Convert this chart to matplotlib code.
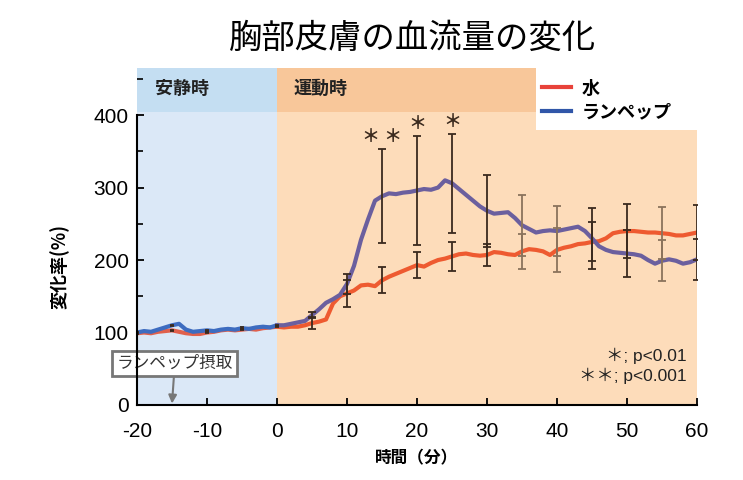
import numpy as np
import matplotlib
matplotlib.use('Agg')
import matplotlib.pyplot as plt
from matplotlib.patches import Rectangle
from matplotlib.lines import Line2D
from matplotlib.ticker import MultipleLocator

plt.rcParams['font.family'] = ['Noto Sans CJK JP', 'DejaVu Sans']
plt.rcParams['axes.unicode_minus'] = False

# データ（1分ごと、-20〜60分）
minutes = list(range(-20, 61))
lampep = [100, 102, 101, 104, 107, 110, 112, 104, 101, 102, 103, 102, 104, 105, 104, 106, 105, 107, 108, 107, 110,
          110, 112, 114, 116, 124, 132, 141, 146, 152, 167, 192, 228, 256, 282, 288, 292, 291, 293, 294,
          296, 298, 297, 300, 310, 306, 298, 290, 282, 274, 268, 264, 265, 266, 258, 248, 243, 238, 240, 241,
          240, 242, 244, 246, 240, 230, 219, 214, 211, 210, 209, 208, 206, 200, 195, 199, 201, 199, 195, 197, 201]
water = [99, 100, 99, 101, 102, 103, 101, 99, 98, 98, 100, 101, 103, 104, 103, 104, 105, 104, 106, 107, 108,
         107, 108, 108, 110, 113, 115, 118, 140, 150, 154, 158, 165, 166, 164, 172, 177, 181, 185, 189,
         193, 191, 196, 200, 202, 205, 208, 209, 207, 206, 207, 211, 210, 208, 207, 212, 215, 214, 212, 207,
         214, 217, 219, 222, 223, 225, 226, 230, 237, 239, 240, 240, 239, 238, 238, 237, 236, 234, 234, 236, 238]

# 誤差（5分ごと）
err_times = [-20, -15, -10, -5, 0, 5, 10, 15, 20, 25, 30, 35, 40, 45, 50, 55, 60]
lampep_err = [1, 1, 1, 1, 1, 4, 14, 65, 75, 68, 50, 42, 35, 42, 33, 28, 28]
water_err = [1, 1, 1, 1, 1, 8, 19, 18, 18, 20, 15, 24, 30, 27, 37, 36, 38]

# 有意差
sig_times = [15, 20, 25]
sig_marks = ['＊ ＊', '＊', '＊']

x = np.array(minutes)
lp = np.array(lampep)
wt = np.array(water)

fig = plt.figure(figsize=(7.43, 4.8), dpi=100)
ax = fig.add_axes([0.1844, 0.1563, 0.7537, 0.702])
ax.set_xlim(-20, 60)
ax.set_ylim(0, 465)

# 背景
ax.add_patch(Rectangle((-20, 0), 20, 404, fc='#dbe8f7', ec='none', zorder=0))
ax.add_patch(Rectangle((0, 0), 60, 404, fc='#fddcba', ec='none', zorder=0))
ax.add_patch(Rectangle((-20, 404), 20, 61, fc='#c4def2', ec='none', zorder=0))
ax.add_patch(Rectangle((0, 404), 37, 61, fc='#f8c79a', ec='none', zorder=0))
ax.text(-17.5, 437, '安静時', fontsize=13, fontweight='bold', va='center', color='#222')
ax.text(2.3, 437, '運動時', fontsize=13, fontweight='bold', va='center', color='#222')

# 折れ線（安静時・運動時で色を変える）
rest = x <= 0
exer = x >= 0
ax.plot(x[rest], wt[rest], color='#e0604c', lw=3, zorder=3)
ax.plot(x[exer], wt[exer], color='#ee5a30', lw=3, zorder=3)
ax.plot(x[rest], lp[rest], color='#3d6cc0', lw=3, zorder=4)
ax.plot(x[exer], lp[exer], color='#6b5f9e', lw=3, zorder=4)

# エラーバー
light = {35, 40, 55}
for t, e1, e2 in zip(err_times, lampep_err, water_err):
    i = minutes.index(t)
    c = '#8a735c' if t in light else '#3b2a1e'
    cap = 3 if t > 0 else 1.5
    ax.errorbar([t], [lampep[i]], yerr=[e1], fmt='none', ecolor=c, elinewidth=1.3, capsize=cap, capthick=1.3, zorder=5)
    ax.errorbar([t], [water[i]], yerr=[e2], fmt='none', ecolor=c, elinewidth=1.3, capsize=cap, capthick=1.3, zorder=5)

# 有意差マーク
for t, m in zip(sig_times, sig_marks):
    i = minutes.index(t)
    top = lampep[i] + lampep_err[err_times.index(t)]
    ax.text(t, top + 4, m, ha='center', va='bottom', fontsize=13, fontweight='bold', color='#3b2a1e', zorder=6)

pfam = ['Liberation Sans', 'Noto Sans CJK JP']
ax.text(58.5, 68, '＊; p<0.01', ha='right', va='center', fontsize=12.5, color='#222', family=pfam)
ax.text(58.5, 40, '＊＊; p<0.001', ha='right', va='center', fontsize=12.5, color='#222', family=pfam)

# 凡例エリア
ax.add_patch(Rectangle((37, 380), 24, 90, fc='white', ec='none', zorder=1, clip_on=False))
handles = [Line2D([0], [0], color='#e8423a', lw=3), Line2D([0], [0], color='#3056a8', lw=3)]
ax.legend(handles, ['水', 'ランペップ'], loc='upper left', bbox_to_anchor=(0.71, 0.99),
          frameon=False, prop={'size': 13, 'weight': 'bold'}, handlelength=1.6,
          handletextpad=0.6, labelspacing=0.25, borderaxespad=0)

# 摂取の注釈
ax.annotate('ランペップ摂取', xy=(-15, 2), xytext=(-14.6, 57), ha='center', va='center',
            fontsize=12, color='#333',
            bbox=dict(boxstyle='square,pad=0.25', fc='white', ec='#777777', lw=2),
            arrowprops=dict(arrowstyle='-|>', color='#777777', lw=1.5, shrinkA=0, shrinkB=0), zorder=7)

# 軸
ax.spines['top'].set_visible(False)
ax.spines['right'].set_visible(False)
ax.spines['left'].set_bounds(0, 400)
ax.spines['left'].set_linewidth(1.5)
ax.spines['bottom'].set_linewidth(1.5)
ax.spines['left'].set_zorder(8)
ax.spines['bottom'].set_zorder(8)
ax.set_xticks(range(-20, 61, 10))
ax.set_yticks(range(0, 401, 100))
ax.yaxis.set_minor_locator(MultipleLocator(50))
ax.tick_params(direction='in', length=5, width=1.3, labelsize=15)
ax.tick_params(axis='x', pad=12)
ax.tick_params(axis='y', pad=6)
ax.tick_params(which='minor', direction='in', length=4, width=1.2)
ax.set_ylim(0, 465)
for lab in ax.get_xticklabels() + ax.get_yticklabels():
    lab.set_family(['Liberation Sans', 'DejaVu Sans'])

ax.set_xlabel('時間（分）', fontsize=12, fontweight='bold', labelpad=6)
ax.set_ylabel('変化率(%)', fontsize=13, fontweight='bold', labelpad=6)
ax.yaxis.set_label_coords(-0.12, 0.41)

fig.text(0.555, 0.92, '胸部皮膚の血流量の変化', ha='center', va='center', fontsize=24)

fig.savefig('out.png', dpi=100, facecolor='white')
